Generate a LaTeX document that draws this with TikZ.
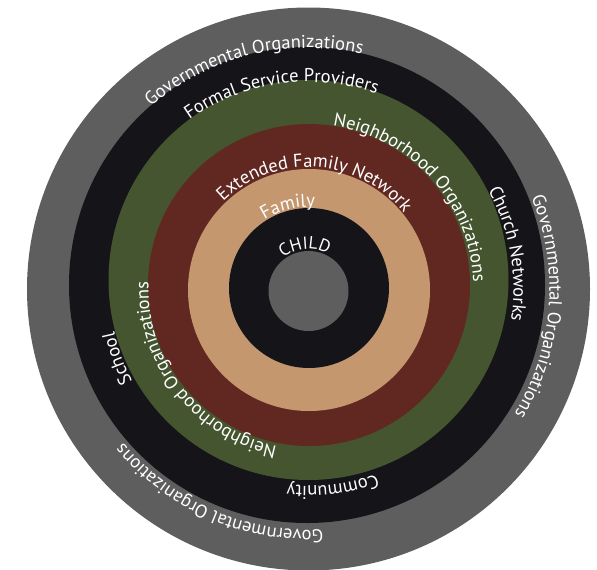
\documentclass[tikz,border=0pt]{standalone}
\usepackage{fontspec}
\newfontfamily\ringfont{PT Sans}
\usepackage{tikz}
\usetikzlibrary{positioning,decorations.text}
\usepackage{xcolor}
\definecolor{ringgray}{RGB}{94,94,94}
\definecolor{ringblack}{RGB}{21,21,25}
\definecolor{ringgreen}{RGB}{69,85,47}
\definecolor{ringred}{RGB}{97,40,34}
\definecolor{ringtan}{RGB}{197,151,111}
\tikzstyle{ring} = [circle, inner sep=0pt, draw=none]
\tikzstyle{ringtext} = [decorate, decoration={text along path, text align=center, text color=white}]
\newcommand{\ringsize}{\fontsize{18.5}{18.5}\selectfont}

\begin{document}
\begin{tikzpicture}[x=1pt, y=1pt]
\useasboundingbox (0,0) rectangle (597,-570);
% Rings, outside in
\node[ring, fill=ringgray, minimum size=563pt] (gov) at (308.5,-289) {};
\node[ring, fill=ringblack, minimum size=476pt] (formal) at (307,-285) {};
\node[ring, fill=ringgreen, minimum size=400pt] (hood) at (308.5,-280) {};
\node[ring, fill=ringred, minimum size=322pt] (extended) at (309,-285) {};
\node[ring, fill=ringtan, minimum size=242pt] (family) at (309,-290) {};
\node[ring, fill=ringblack, minimum size=160pt] (child) at (309,-288) {};
\node[ring, fill=ringgray, minimum size=80pt] (core) at (308.5,-291) {};
\coordinate (c) at (308.5,-289);

% Governmental Organizations
\path[ringtext, decoration={text={|\ringfont\ringsize|Governmental Organizations}}] ([shift={(154:241)}]c) arc[start angle=154, end angle=54, radius=241];
\path[ringtext, decoration={text={|\ringfont\ringsize|Governmental Organizations}}] ([shift={(45.5:241)}]c) arc[start angle=45.5, end angle=-54.5, radius=241];
\path[ringtext, decoration={text={|\ringfont\ringsize|Governmental Organizations}}] ([shift={(296.6:241)}]c) arc[start angle=296.6, end angle=196.6, radius=241];

% Formal services
\path[ringtext, decoration={text={|\ringfont\ringsize|Formal Service Providers}}] ([shift={(148:207)}]c) arc[start angle=148, end angle=48, radius=207];
\path[ringtext, decoration={text={|\ringfont\ringsize|Church Networks}}] ([shift={(60:205)}]c) arc[start angle=60, end angle=-40, radius=205];
\path[ringtext, decoration={text={|\ringfont\ringsize|School}}] ([shift={(230:199)}]c) arc[start angle=230, end angle=170, radius=199];
\path[ringtext, decoration={text={|\ringfont\ringsize|Community}}] ([shift={(317:197)}]c) arc[start angle=317, end angle=237, radius=197];

% Neighborhood
\path[ringtext, decoration={text={|\ringfont\ringsize|Neighborhood Organizations}}] ([shift={(97:165)}]c) arc[start angle=97, end angle=-13, radius=165];
\path[ringtext, decoration={text={|\ringfont\ringsize|Neighborhood Organizations}}] ([shift={(278:160)}]c) arc[start angle=278, end angle=158, radius=160];

% Family and child
\path[ringtext, decoration={text={|\ringfont\ringsize|Extended Family Network}}] ([shift={(151.4:122)}]c) arc[start angle=151.4, end angle=21.4, radius=122];
\path[ringtext, decoration={text={|\ringfont\ringsize|Family}}] ([shift={(154:82)}]c) arc[start angle=154, end angle=54, radius=82];
\path[ringtext, decoration={text={|\ringfont\fontsize{17.5}{17.5}\selectfont|CHILD}}] ([shift={(165:40)}]c) arc[start angle=165, end angle=25, radius=40];
\end{tikzpicture}
\end{document}
